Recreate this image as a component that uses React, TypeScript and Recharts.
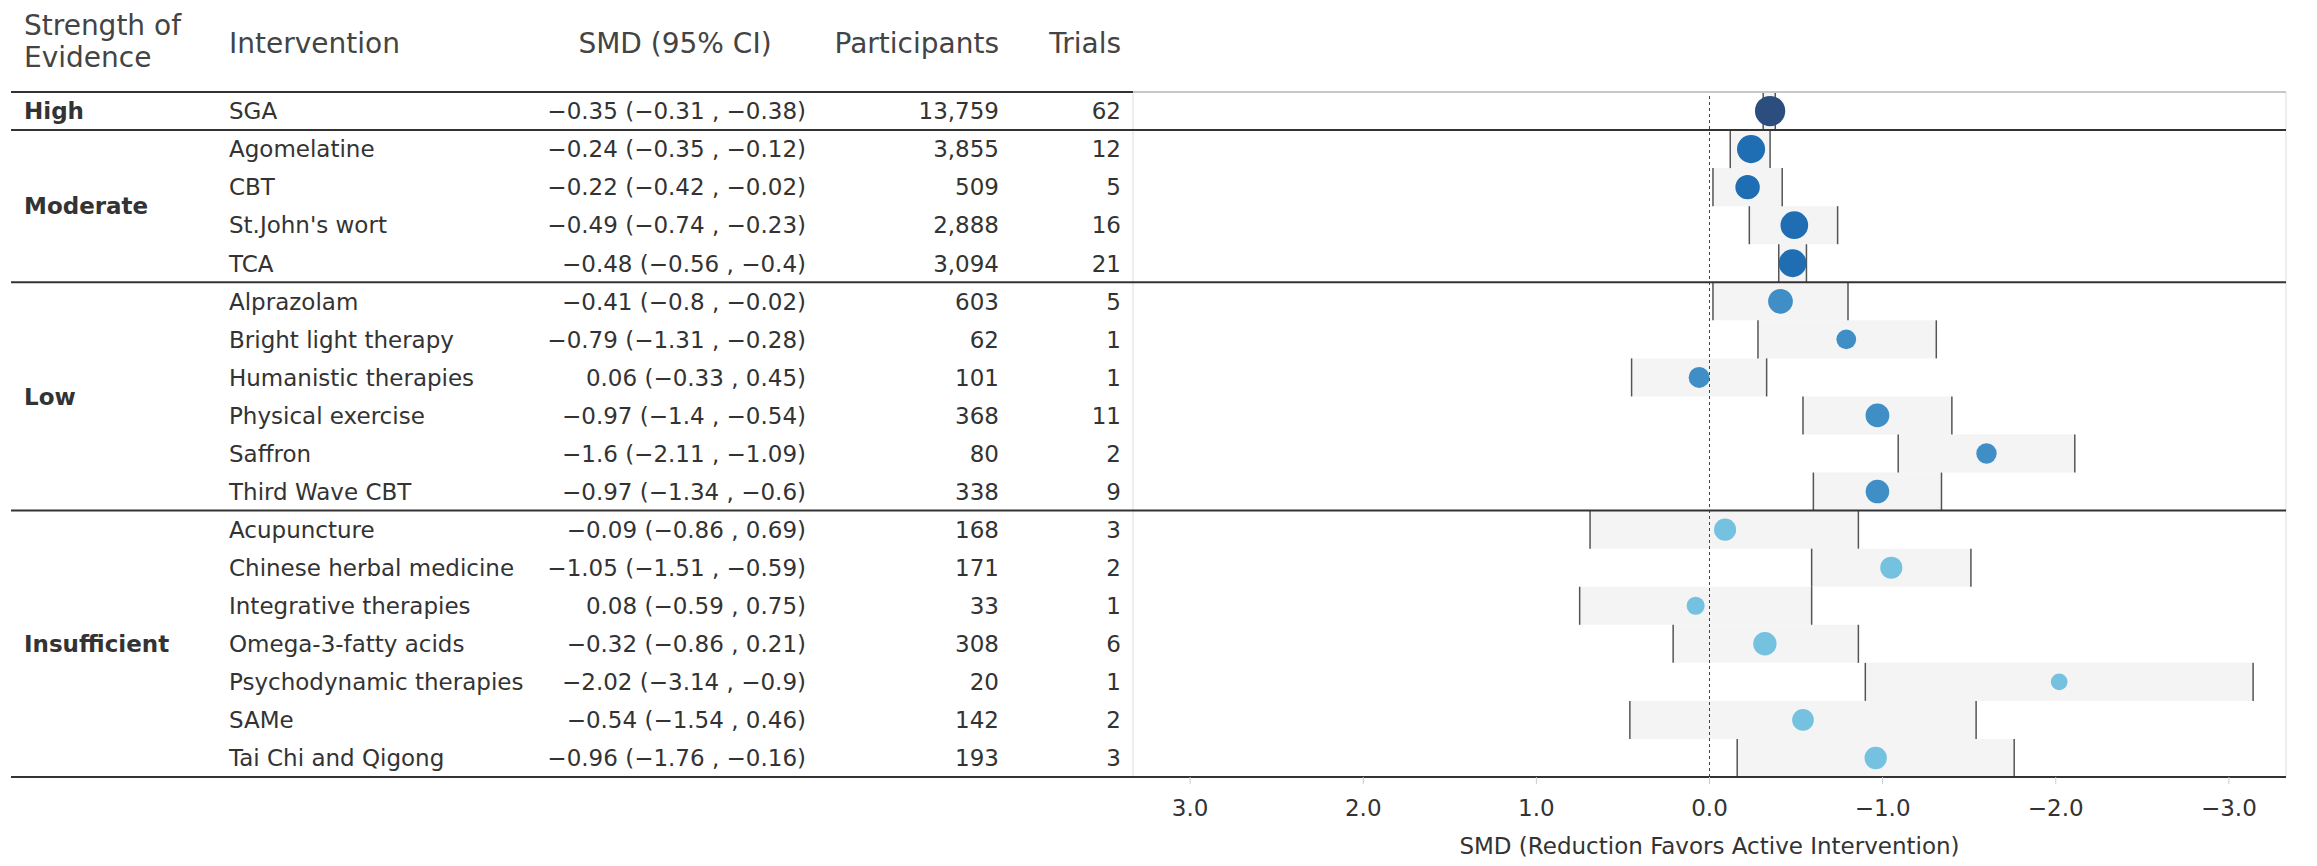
import React from 'react'
import { ComposedChart, Scatter, XAxis, YAxis, ZAxis, ReferenceArea, ReferenceLine, Cell, Label } from 'recharts'

const interventions = [
  'SGA', 'Agomelatine', 'CBT', "St.John's wort", 'TCA',
  'Alprazolam', 'Bright light therapy', 'Humanistic therapies', 'Physical exercise', 'Saffron', 'Third Wave CBT',
  'Acupuncture', 'Chinese herbal medicine', 'Integrative therapies', 'Omega-3-fatty acids', 'Psychodynamic therapies', 'SAMe', 'Tai Chi and Qigong',
]
const smd = [-0.35, -0.24, -0.22, -0.49, -0.48, -0.41, -0.79, 0.06, -0.97, -1.6, -0.97, -0.09, -1.05, 0.08, -0.32, -2.02, -0.54, -0.96]
const ciFirst = [-0.31, -0.35, -0.42, -0.74, -0.56, -0.8, -1.31, -0.33, -1.4, -2.11, -1.34, -0.86, -1.51, -0.59, -0.86, -3.14, -1.54, -1.76]
const ciSecond = [-0.38, -0.12, -0.02, -0.23, -0.4, -0.02, -0.28, 0.45, -0.54, -1.09, -0.6, 0.69, -0.59, 0.75, 0.21, -0.9, 0.46, -0.16]
const participants = [13759, 3855, 509, 2888, 3094, 603, 62, 101, 368, 80, 338, 168, 171, 33, 308, 20, 142, 193]
const trials = [62, 12, 5, 16, 21, 5, 1, 1, 11, 2, 9, 3, 2, 1, 6, 1, 2, 3]

const groupNames = ['High', 'Moderate', 'Low', 'Insufficient']
const groupSizes = [1, 4, 6, 7]
const groupColors = ['#2b4e7e', '#1f6db2', '#3f8ec5', '#74c2df']

const xTicks = [3, 2, 1, 0, -1, -2, -3]

const W = 2317
const H = 866
const M = { top: 92, right: 31, bottom: 0, left: 0 }
const XAXIS_H = 89
const TABLE_W = 1133
const X_MAX = 3.33
const FONT = '"DejaVu Sans", sans-serif'
const TXT = '#333'

const groupStarts = groupSizes.map((_, g) => groupSizes.slice(0, g).reduce((a, b) => a + b, 0))
const groupOf = interventions.map((_, i) => {
  let g = 0
  groupStarts.forEach((s, k) => { if (i >= s) g = k })
  return g
})
const boundaries = [...groupStarts, interventions.length]

const fmt = (v: number) => String(v).replace('-', '\u2212')

const rows = interventions.map((name, i) => ({
  i,
  name,
  y: i + 0.5,
  smd: smd[i],
  lo: Math.min(ciFirst[i], ciSecond[i]),
  hi: Math.max(ciFirst[i], ciSecond[i]),
  smdText: `${fmt(smd[i])} (${fmt(ciFirst[i])} , ${fmt(ciSecond[i])})`,
  participants: participants[i],
  trials: trials[i],
  g: groupOf[i],
}))

// pixel helpers for the table part (outside the plot area)
const pxPerUnit = (W - M.right - TABLE_W) / (2 * X_MAX)
const xTableEdge = X_MAX + (TABLE_W - 11) / pxPerUnit
const rowH = (H - M.top - XAXIS_H) / interventions.length

function RowTick(props: any) {
  const { y, payload } = props
  const r = rows[Math.floor(payload.value)]
  if (!r) return null
  const g = r.g
  const size = groupSizes[g]
  const labelRow = groupStarts[g] + Math.ceil(size / 2) - 1
  const labelDy = size % 2 === 0 ? rowH / 2 : 0
  return (
    <g fontFamily={FONT} fontSize={23} fill={TXT}>
      {r.i === labelRow && (
        <text x={24} y={y + labelDy} dy="0.36em" fontWeight={700}>{groupNames[g]}</text>
      )}
      <text x={229} y={y} dy="0.36em">{r.name}</text>
      <text x={806} y={y} dy="0.36em" textAnchor="end">{r.smdText}</text>
      <text x={999} y={y} dy="0.36em" textAnchor="end">{r.participants.toLocaleString('en-US')}</text>
      <text x={1121} y={y} dy="0.36em" textAnchor="end">{r.trials}</text>
    </g>
  )
}

export default function App() {
  return (
    <div style={{ position: 'absolute', left: 0, top: 0, width: W, height: H, background: '#fff' }}>
      <svg width={W} height={M.top} style={{ position: 'absolute', left: 0, top: 0 }} fontFamily={FONT} fontSize={28} fill="#444">
        <text x={24} y={35}>Strength of</text>
        <text x={24} y={67}>Evidence</text>
        <text x={229} y={53}>Intervention</text>
        <text x={675} y={53} textAnchor="middle">SMD (95% CI)</text>
        <text x={999} y={53} textAnchor="end">Participants</text>
        <text x={1121} y={53} textAnchor="end">Trials</text>
      </svg>
      <ComposedChart width={W} height={H} margin={M}>
        <XAxis
          dataKey="smd"
          type="number"
          domain={[-X_MAX, X_MAX]}
          reversed
          allowDataOverflow
          ticks={xTicks}
          interval={0}
          tickFormatter={(v: number) => v.toFixed(1).replace('-', '\u2212')}
          tick={{ fontSize: 23, fill: TXT, fontFamily: FONT }}
          tickLine={{ stroke: '#ccc' }}
          tickSize={7}
          tickMargin={16}
          axisLine={{ stroke: '#333', strokeWidth: 2 }}
          height={XAXIS_H}
        >
          <Label value="SMD (Reduction Favors Active Intervention)" position="insideBottom" offset={12} style={{ fontSize: 23, fill: TXT, fontFamily: FONT }} />
        </XAxis>
        <YAxis
          dataKey="y"
          type="number"
          domain={[0, interventions.length]}
          reversed
          ticks={rows.map(r => r.y)}
          interval={0}
          width={TABLE_W}
          axisLine={false}
          tickLine={false}
          tick={<RowTick />}
        />
        <ZAxis dataKey="participants" type="number" scale="log" domain={[20, 13759]} range={[220, 720]} />

        {rows.map(r => (
          <ReferenceArea key={'a' + r.i} x1={r.lo} x2={r.hi} y1={r.i} y2={r.i + 1} fill="#f4f4f4" fillOpacity={1} stroke="none" />
        ))}

        <ReferenceLine x={X_MAX} stroke="#ddd" ifOverflow="visible" />
        <ReferenceLine x={-X_MAX} stroke="#ddd" ifOverflow="visible" />
        <ReferenceLine x={0} stroke="#444" strokeDasharray="3 3" />

        {rows.map(r => (
          <ReferenceLine key={'l' + r.i} segment={[{ x: r.lo, y: r.i }, { x: r.lo, y: r.i + 1 }]} stroke="#555" strokeWidth={1.5} />
        ))}
        {rows.map(r => (
          <ReferenceLine key={'h' + r.i} segment={[{ x: r.hi, y: r.i }, { x: r.hi, y: r.i + 1 }]} stroke="#555" strokeWidth={1.5} />
        ))}

        {boundaries.map(k => (
          <ReferenceLine key={'t' + k} segment={[{ x: xTableEdge, y: k }, { x: X_MAX, y: k }]} stroke="#333" strokeWidth={2} ifOverflow="visible" />
        ))}
        {boundaries.map(k => (
          <ReferenceLine key={'p' + k} segment={[{ x: X_MAX, y: k }, { x: -X_MAX, y: k }]} stroke={k === 0 ? '#c8c8c8' : '#333'} strokeWidth={2} ifOverflow="visible" />
        ))}

        <Scatter data={rows} isAnimationActive={false}>
          {rows.map(r => (
            <Cell key={'c' + r.i} fill={groupColors[r.g]} />
          ))}
        </Scatter>
      </ComposedChart>
    </div>
  )
}
